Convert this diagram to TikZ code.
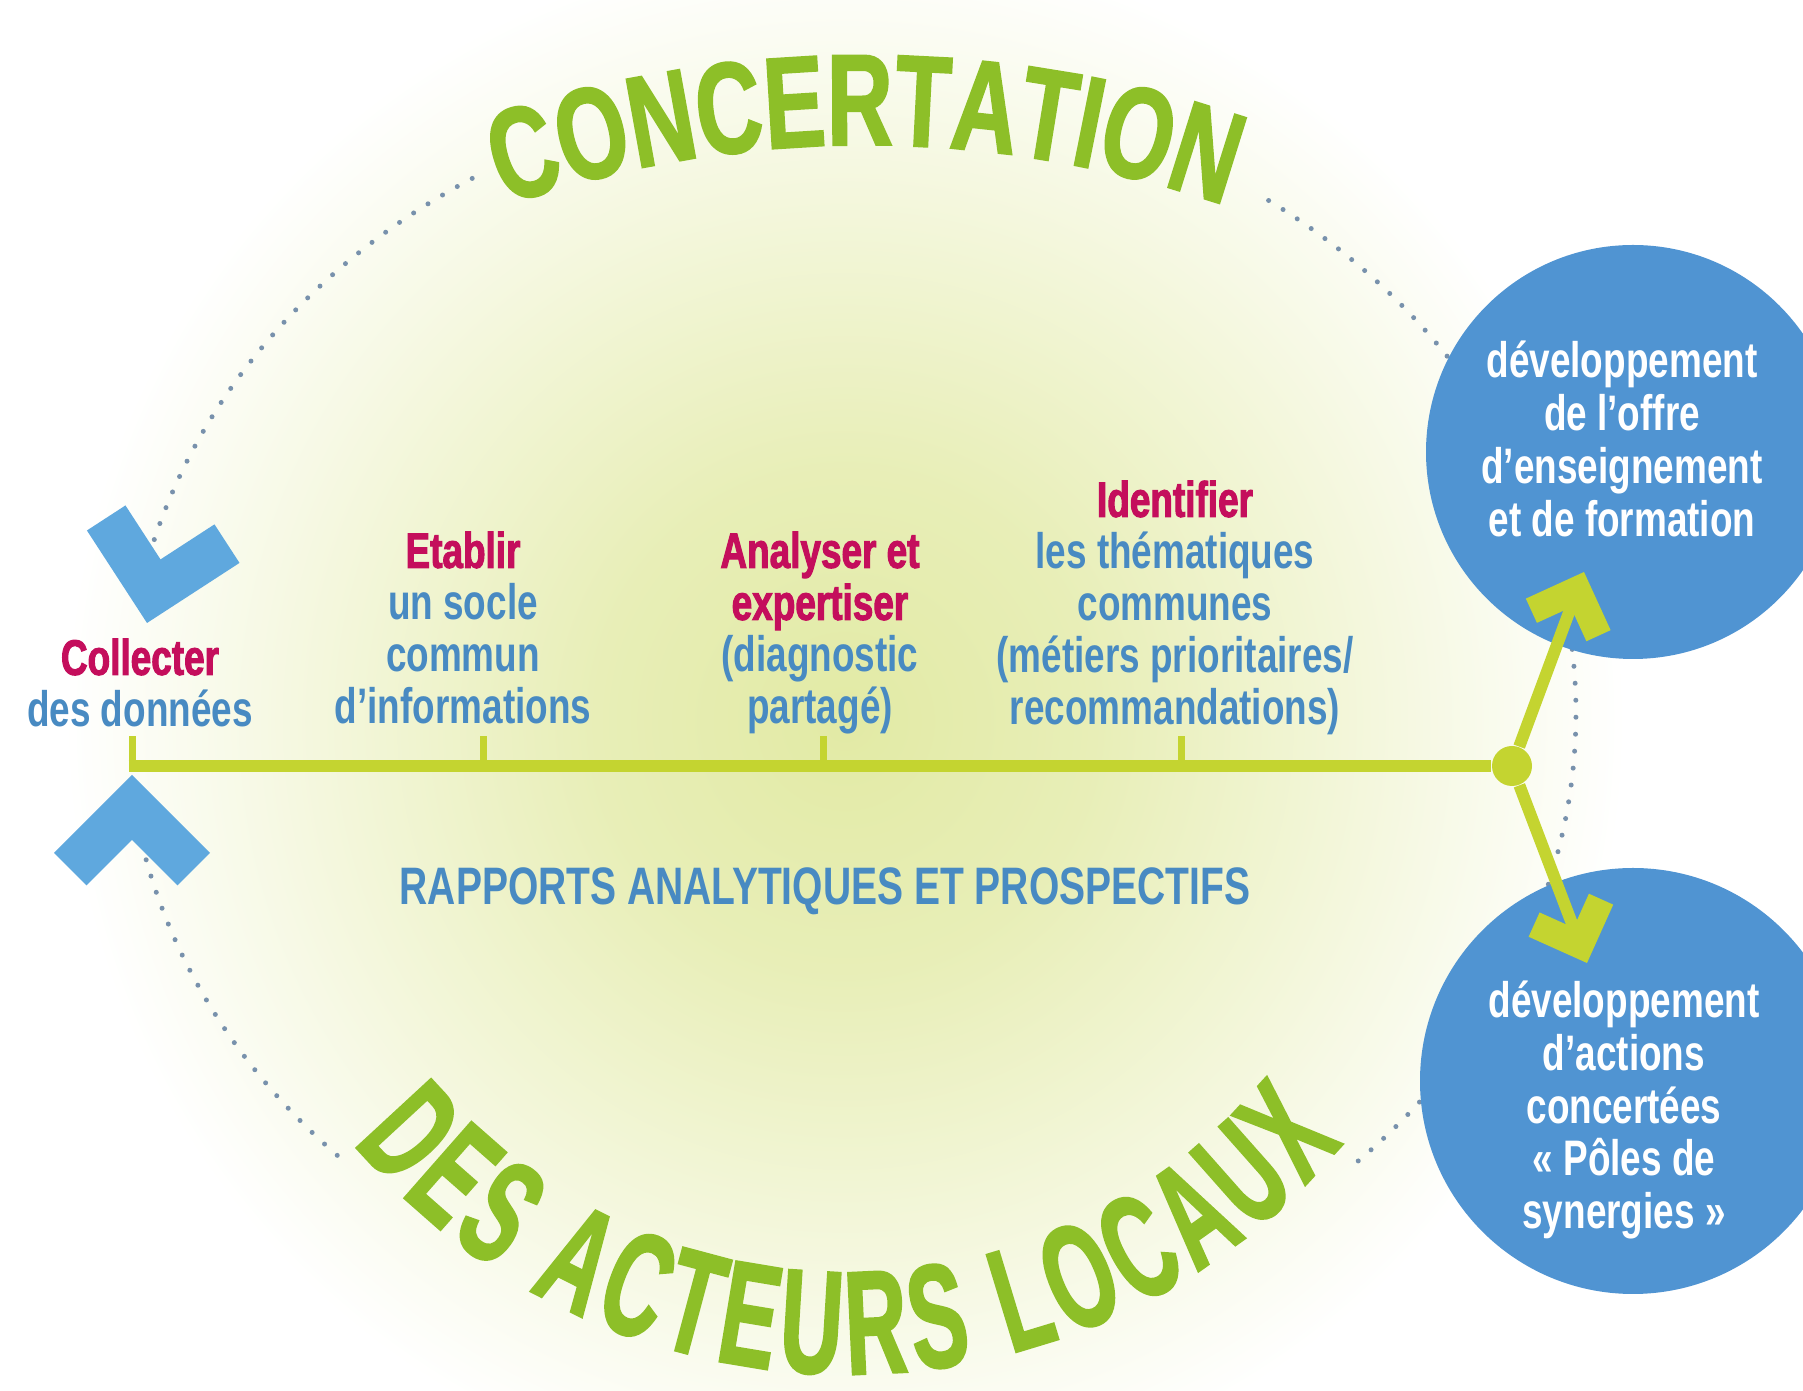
\documentclass[tikz,border=0pt]{standalone}
\usepackage{fontspec}
\setmainfont{Liberation Sans}[FakeStretch=0.74]
\newfontfamily\heavyfont{Liberation Sans}[FakeStretch=0.74,BoldFeatures={FakeBold=2}]
\newfontfamily\titlefont{Liberation Sans}[FakeStretch=0.70,BoldFeatures={FakeBold=1.5}]
\newfontfamily\bannerfont{Liberation Sans}[FakeStretch=0.58,BoldFeatures={FakeBold=1.5}]
\usepackage{tikz}
\usetikzlibrary{decorations.text}

\definecolor{magentatxt}{RGB}{196,14,92}
\definecolor{bluetxt}{RGB}{72,138,194}
\definecolor{titlegreen}{RGB}{141,191,40}
\definecolor{linegreen}{RGB}{196,212,48}
\definecolor{chevblue}{RGB}{95,168,222}
\definecolor{discblue}{RGB}{80,148,210}
\definecolor{dotgray}{RGB}{120,145,172}
\definecolor{glowgreen}{RGB}{226,234,165}

\pgfdeclareradialshading{glow}{\pgfpoint{0bp}{0bp}}{color(0bp)=(glowgreen); color(8bp)=(glowgreen!80!white); color(25bp)=(white); color(50bp)=(white)}

\newcommand{\keyword}[1]{{\heavyfont\bfseries\color{magentatxt}#1}}

\tikzset{
  labeltext/.style={align=center, anchor=north, inner sep=0pt, text=bluetxt,
    font=\bfseries\fontsize{14.2pt}{14.8pt}\selectfont},
  disc/.style={circle, fill=discblue, minimum size=#1, inner sep=0pt},
  disctext/.style={align=center, inner sep=0pt, text=white,
    font=\bfseries\fontsize{14.2pt}{15pt}\selectfont},
  dottedarc/.style={dotgray, line width=0.05cm, line cap=round, dash pattern=on 0pt off 0.17cm},
  mainline/.style={linegreen, line width=0.12cm},
  tickline/.style={linegreen, line width=0.07cm},
  arrowline/.style={linegreen, line width=0.12cm, shorten >=0.2cm},
  chevron/.pic={\fill (0,0) -- (-0.78,-0.78) -- (-0.455,-1.105) -- (0,-0.65)
    -- (0.455,-1.105) -- (0.78,-0.78) -- cycle;}
}

\begin{document}
\begin{tikzpicture}
  \useasboundingbox (0,0) rectangle (18.03,13.91);
  \clip (0,0) rectangle (18.03,13.91);
  \fill[white] (0,0) rectangle (18.03,13.91);

  % Soft glow behind the middle
  \shade[shading=glow] (8.45,6.7) circle (7.8);

  % Dotted loop around everything
  \coordinate (hub) at (8.51,6.78);
  \draw[dottedarc] ([shift={(121.5:7.25 and 6.27)}]hub)
    arc[start angle=121.5, end angle=165, x radius=7.25, y radius=6.27];
  \draw[dottedarc] ([shift={(192:7.25 and 6.27)}]hub)
    arc[start angle=192, end angle=225.6, x radius=7.25, y radius=6.27];
  \draw[dottedarc] ([shift={(-45.6:7.25 and 6.27)}]hub)
    arc[start angle=-45.6, end angle=56.2, x radius=7.25, y radius=6.27];

  % Blue chevrons on the loop
  \pic[fill=chevblue, rotate=168] at (1.47,7.68) {chevron};
  \pic[fill=chevblue] at (1.32,6.16) {chevron};

  % Curved titles
  \coordinate (toparc) at (8.65,1.46);
  \coordinate (botarc) at (8.48,6.63);
  \path[decorate, decoration={text along path, text align=center, text color=titlegreen,
      text={|\titlefont\bfseries\fontsize{37pt}{37pt}\selectfont|CONCERTATION}}]
    ([shift={(110:11)}]toparc) arc[start angle=110, end angle=70, radius=11];
  \path[decorate, decoration={text along path, text align=fit to path, text color=titlegreen,
      text={|\bannerfont\bfseries\fontsize{42pt}{42pt}\selectfont|DES ACTEURS LOCAUX}}]
    ([shift={(220:6.46)}]botarc) arc[start angle=220, end angle=320, radius=6.46];

  % Time line with its ticks
  \coordinate (start) at (1.285,6.25);
  \node[circle, fill=linegreen, minimum size=0.4cm, inner sep=0pt] (hubdot) at (15.12,6.25) {};
  \draw[mainline] (start) -- (hubdot);
  \foreach \x in {1.32,4.83,8.23,11.81}
    \draw[tickline] (\x,6.25) -- (\x,6.55);

  % Steps above the line
  \node[labeltext] (collecter) at (1.40,7.53) {\keyword{Collecter}\\des données};
  \node[labeltext] (etablir) at (4.63,8.60) {\keyword{Etablir}\\un socle\\commun\\d’informations};
  \node[labeltext] (analyser) at (8.20,8.60) {\keyword{Analyser et}\\\keyword{expertiser}\\(diagnostic\\partagé)};
  \node[labeltext] (identifier) at (11.75,9.11) {\keyword{Identifier}\\les thématiques\\communes\\(métiers prioritaires/\\recommandations)};
  \node[labeltext, anchor=center, font=\bfseries\fontsize{15pt}{16pt}\selectfont] (rapports)
    at (8.25,5.00) {RAPPORTS ANALYTIQUES ET PROSPECTIFS};

  % Outcome discs
  \node[disc=4.14cm] (offre) at (16.33,9.39) {};
  \node[disc=4.26cm] (actions) at (16.33,3.10) {};
  \node[disctext] (offretext) at ([xshift=-0.11cm,yshift=0.13cm]offre.center)
    {développement\\de l’offre\\d’enseignement\\et de formation};
  \node[disctext] (actionstext) at ([xshift=-0.09cm,yshift=-0.29cm]actions.center)
    {développement\\d’actions\\concertées\\« Pôles de\\synergies »};

  % Green arrows into the discs
  \coordinate (tipup) at (15.84,8.19);
  \coordinate (tipdown) at (15.87,4.28);
  \draw[arrowline] (hubdot) -- (tipup);
  \draw[arrowline] (hubdot) -- (tipdown);
  \pic[fill=linegreen, scale=0.58, rotate=-20.4] at (tipup) {chevron};
  \pic[fill=linegreen, scale=0.58, rotate=-159.2] at (tipdown) {chevron};
\end{tikzpicture}
\end{document}
